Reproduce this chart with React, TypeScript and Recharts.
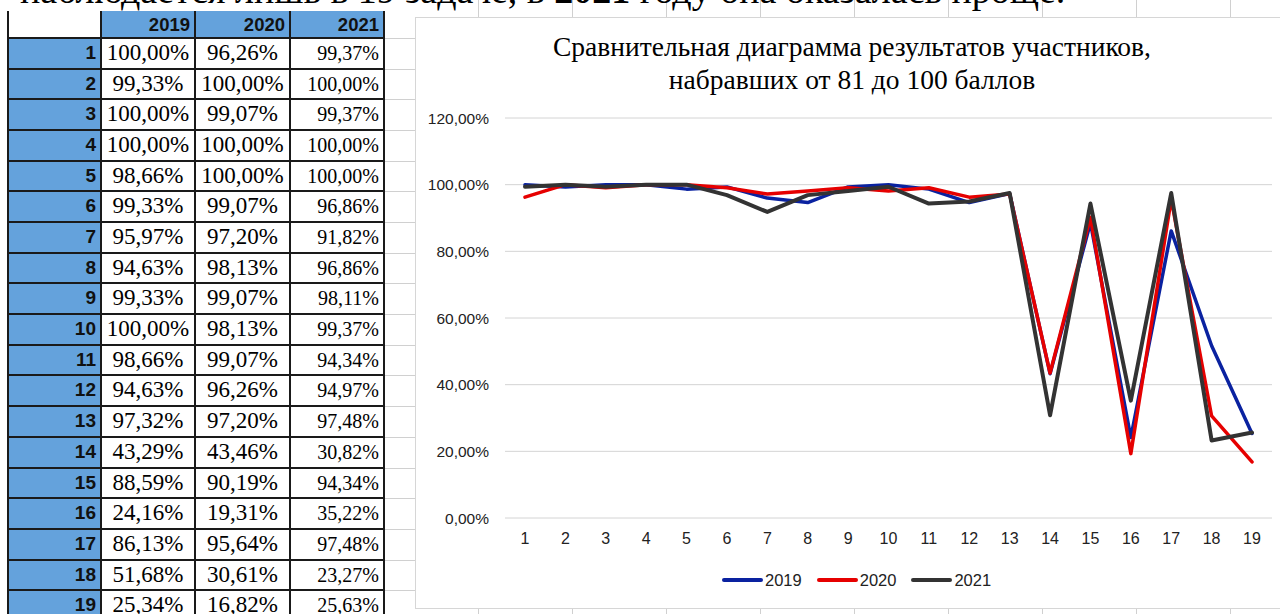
import { LineChart, Line, XAxis, YAxis, CartesianGrid } from "recharts";

// Task numbers and share of participants (81-100 points) who solved each task
const tasks = ["1", "2", "3", "4", "5", "6", "7", "8", "9", "10", "11", "12", "13", "14", "15", "16", "17", "18", "19"];
const years = ["2019", "2020", "2021"];
const res2019 = [100, 99.33, 100, 100, 98.66, 99.33, 95.97, 94.63, 99.33, 100, 98.66, 94.63, 97.32, 43.29, 88.59, 24.16, 86.13, 51.68, 25.34];
const res2020 = [96.26, 100, 99.07, 100, 100, 99.07, 97.2, 98.13, 99.07, 98.13, 99.07, 96.26, 97.2, 43.46, 90.19, 19.31, 95.64, 30.61, 16.82];
const res2021 = [99.37, 100, 99.37, 100, 100, 96.86, 91.82, 96.86, 98.11, 99.37, 94.34, 94.97, 97.48, 30.82, 94.34, 35.22, 97.48, 23.27, 25.63];
const yTicks = [0, 20, 40, 60, 80, 100, 120];

const colors = ["#0a22a0", "#e60000", "#333333"];
const SERIF = '"Liberation Serif", "Times New Roman", serif';
const SANS = '"Liberation Sans", Arial, sans-serif';

const chartData = tasks.map((t, i) => ({
  task: t,
  y2019: res2019[i],
  y2020: res2020[i],
  y2021: res2021[i],
}));

const pct = (v: number) => v.toFixed(2).replace(".", ",") + "%";

const colX = [8, 101, 195, 290, 384];
const headTop = 11;
const bodyTop = 38;
const rowH = 30.68;
const blue = "#64a2dc";

const DataTable = () => {
  const cols = [res2019, res2020, res2021];
  const lines = [];
  // vertical borders
  colX.forEach((x, i) =>
    lines.push(
      <div key={"v" + i} style={{ position: "absolute", left: x - 1, top: headTop, width: 2, height: 614 - headTop, background: "#1a1a1a" }} />
    )
  );
  for (let r = 0; r <= tasks.length; r++) {
    lines.push(
      <div key={"h" + r} style={{ position: "absolute", left: 7, top: bodyTop + r * rowH - 1, width: 378, height: 2, background: "#1a1a1a" }} />
    );
  }
  return (
    <div>
      <div style={{ position: "absolute", left: colX[0], top: headTop, width: colX[1] - colX[0], height: bodyTop - headTop, background: "#fff" }} />
      <div style={{ position: "absolute", left: colX[1], top: headTop, width: colX[4] - colX[1], height: bodyTop - headTop, background: blue }} />
      <div style={{ position: "absolute", left: colX[0], top: bodyTop, width: colX[1] - colX[0], height: 614 - bodyTop, background: blue }} />
      {years.map((y, i) => (
        <div
          key={y}
          style={{
            position: "absolute", left: colX[i + 1], top: headTop, width: colX[i + 2] - colX[i + 1] - 5, height: bodyTop - headTop,
            lineHeight: bodyTop - headTop + "px", textAlign: "right", fontFamily: SANS, fontWeight: "bold", fontSize: 18.5, color: "#111",
          }}
        >
          {y}
        </div>
      ))}
      {tasks.map((t, r) => (
        <div key={"row" + t}>
          <div
            style={{
              position: "absolute", left: colX[0], top: bodyTop + r * rowH, width: colX[1] - colX[0] - 5, height: rowH,
              lineHeight: rowH + "px", textAlign: "right", fontFamily: SANS, fontWeight: "bold", fontSize: 19, color: "#111",
            }}
          >
            {t}
          </div>
          {cols.map((c, ci) => (
            <div
              key={ci}
              style={{
                position: "absolute", left: colX[ci + 1], top: bodyTop + r * rowH, width: colX[ci + 2] - colX[ci + 1] - (ci === 2 ? 5 : 0), height: rowH,
                lineHeight: rowH + "px", textAlign: ci === 2 ? "right" : "center", fontFamily: SERIF,
                fontSize: ci === 2 ? 20 : 23, color: "#000",
              }}
            >
              {pct(c[r])}
            </div>
          ))}
        </div>
      ))}
      {lines}
    </div>
  );
};

const SheetGrid = () => {
  const items = [];
  for (let k = 1; k <= 10; k++) {
    const x = 384 + k * 94;
    items.push(<div key={"t" + k} style={{ position: "absolute", left: x, top: 0, width: 1, height: 17, background: "#d0d0d0" }} />);
    items.push(<div key={"b" + k} style={{ position: "absolute", left: x, top: 608, width: 1, height: 6, background: "#d0d0d0" }} />);
  }
  for (let r = 0; r <= tasks.length; r++) {
    items.push(
      <div key={"g" + r} style={{ position: "absolute", left: 385, top: bodyTop + r * rowH, width: 30, height: 1, background: "#d0d0d0" }} />
    );
  }
  return <>{items}</>;
};

const App = () => {
  return (
    <div style={{ position: "absolute", left: 0, top: 0, width: 1280, height: 614, overflow: "hidden", background: "#fff" }}>
      <SheetGrid />
      <div
        style={{
          position: "absolute", left: 20, top: -29, whiteSpace: "nowrap", fontFamily: SERIF, fontSize: 38, lineHeight: "38px", color: "#000",
        }}
      >
        наблюдается лишь в 19 задаче, в <b>2021</b> году она оказалась проще.
      </div>
      <DataTable />
      {/* chart frame */}
      <div style={{ position: "absolute", left: 415, top: 17, width: 900, height: 590, border: "1px solid #d6d6d6", background: "#fff" }} />
      <div
        style={{
          position: "absolute", left: 415, top: 30, width: 874, textAlign: "center", fontFamily: SERIF, fontSize: 27.5, lineHeight: "33px", color: "#000",
        }}
      >
        Сравнительная диаграмма результатов участников,
        <br />
        набравших от 81 до 100 баллов
      </div>
      <div style={{ position: "absolute", left: 415, top: 17 }}>
        <LineChart width={865} height={591} data={chartData} margin={{ top: 101, right: 8, left: 0, bottom: 0 }}>
          <CartesianGrid vertical={false} stroke="#d4d4d4" strokeWidth={1} />
          <XAxis
            dataKey="task"
            height={90}
            padding={{ left: 20, right: 20 }}
            axisLine={false}
            tickLine={false}
            tickSize={0}
            tickMargin={15}
            interval={0}
            tick={{ fill: "#222", fontSize: 16, fontFamily: SANS }}
          />
          <YAxis
            width={90}
            domain={[0, 120]}
            ticks={yTicks}
            axisLine={false}
            tickLine={false}
            tickSize={0}
            tickMargin={16}
            tickFormatter={pct}
            tick={{ fill: "#222", fontSize: 15.5, fontFamily: SANS }}
          />
          <Line dataKey="y2019" stroke={colors[0]} strokeWidth={3.5} dot={false} strokeLinejoin="round" strokeLinecap="round" isAnimationActive={false} />
          <Line dataKey="y2020" stroke={colors[1]} strokeWidth={3.5} dot={false} strokeLinejoin="round" strokeLinecap="round" isAnimationActive={false} />
          <Line dataKey="y2021" stroke={colors[2]} strokeWidth={4} dot={false} strokeLinejoin="round" strokeLinecap="round" isAnimationActive={false} />
        </LineChart>
      </div>
      {/* legend */}
      <div style={{ position: "absolute", left: 722, top: 569, display: "flex", alignItems: "center", height: 22 }}>
        {years.map((y, i) => (
          <div key={y} style={{ display: "flex", alignItems: "center", marginRight: 15 }}>
            <div style={{ width: 41, height: 4, borderRadius: 2, background: colors[i] }} />
            <span style={{ fontFamily: SANS, fontSize: 16.5, color: "#222", marginLeft: 2 }}>{y}</span>
          </div>
        ))}
      </div>
    </div>
  );
};

export default App;
